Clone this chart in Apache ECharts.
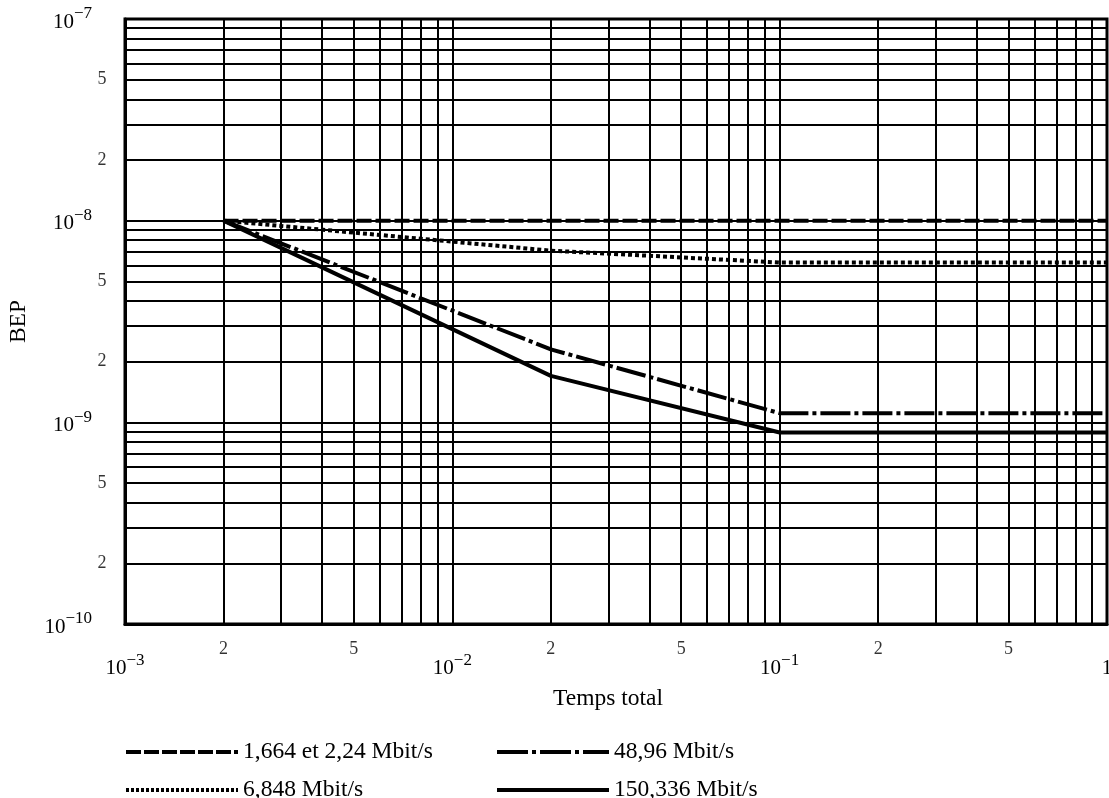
<!DOCTYPE html>
<html><head><meta charset="utf-8">
<script src="https://cdn.jsdelivr.net/npm/echarts@6/dist/echarts.min.js"></script>
<style>html,body{margin:0;padding:0;background:#fff}#c{width:1109px;height:798px}</style>
</head><body><div id="c"></div>
<script>
// ---- data ----
const xValues = [0.002, 0.02, 0.1, 1];
const seriesNames = ['1,664 et 2,24 Mbit/s', '6,848 Mbit/s', '48,96 Mbit/s', '150,336 Mbit/s'];
const bepDashed = [1e-8, 1e-8, 1e-8, 1e-8];
const bepDotted = [1e-8, 7.1e-9, 6.2e-9, 6.2e-9];
const bepDashDot = [1e-8, 2.3e-9, 1.11e-9, 1.11e-9];
const bepSolid = [1e-8, 1.7e-9, 8.9e-10, 8.9e-10];
const xRange = [0.001, 1];
const yRange = [1e-10, 1e-7];
const xMinorLabelTicks = [0.002, 0.005, 0.02, 0.05, 0.2, 0.5];
const yMinorLabelTicks = [2e-10, 5e-10, 2e-9, 5e-9, 2e-8, 5e-8];
const xTitle = 'Temps total';
const yTitle = 'BEP';

const FONT = 'Liberation Serif';
const chart = echarts.init(document.getElementById('c'));

function pairs(ys) { return xValues.map((x, i) => [x, ys[i]]); }
function leadingDigit(v) {
  const e = Math.floor(Math.log10(v) + 1e-9);
  return String(Math.round(v / Math.pow(10, e)));
}
function decadeLabel(v) {
  const e = Math.round(Math.log10(v));
  if (e === 0) return '{b|1}';
  return '{b|10}{s|' + (e < 0 ? '\u2212' + (-e) : e) + '}';
}
const rich = {
  b: { fontFamily: FONT, fontSize: 21, color: '#000', lineHeight: 27, verticalAlign: 'bottom' },
  s: { fontFamily: FONT, fontSize: 17, color: '#000', lineHeight: 17, verticalAlign: 'top' }
};
const gridLine = { color: '#000', width: 2, type: 'solid' };
const legendText = { fontFamily: FONT, fontSize: 23.5, color: '#000', lineHeight: 20 };
const styles = [
  { plot: [15, 4], legend: [15, 3] },
  { plot: [4, 3], legend: [3, 2] },
  { plot: [30, 4, 4, 4], legend: [31, 4, 4, 4] },
  { plot: 'solid', legend: 'solid' }
];
const legendPos = [[124, 740], [124, 778], [495, 740], [495, 778]];

function makeLegend(i) {
  return {
    data: [seriesNames[i]], left: legendPos[i][0], top: legendPos[i][1], orient: 'horizontal',
    itemWidth: 112, itemHeight: 20, padding: 0,
    textStyle: legendText,
    itemStyle: { opacity: 0, borderWidth: 0 },
    lineStyle: { width: 4, type: styles[i].legend, color: '#000', cap: 'butt' }
  };
}
const hidden = 'rgba(0,0,0,0)';

const option = {
  animation: false,
  backgroundColor: '#fff',
  grid: { left: 125, right: 2, top: 19, bottom: 174, show: true, borderColor: '#000', borderWidth: 3,
          containLabel: false, outerBoundsMode: 'none' },
  xAxis: {
    type: 'log', logBase: 10, min: xRange[0], max: xRange[1],
    name: xTitle, nameLocation: 'middle', nameGap: 63,
    nameTextStyle: { fontFamily: FONT, fontSize: 23.5, color: '#000', padding: [0, 16, 0, 0] },
    axisLine: { show: true, lineStyle: { color: '#000', width: 3 } },
    axisTick: { show: false },
    axisLabel: { show: true, interval: 0, margin: 28, formatter: decadeLabel, rich: rich, showMinLabel: true, showMaxLabel: true },
    splitLine: { show: true, lineStyle: gridLine },
    minorTick: { show: false, splitNumber: 9 },
    minorSplitLine: { show: true, lineStyle: gridLine }
  },
  yAxis: {
    type: 'log', logBase: 10, min: yRange[0], max: yRange[1],
    name: yTitle, nameLocation: 'middle', nameGap: 94, nameRotate: 90,
    nameTextStyle: { fontFamily: FONT, fontSize: 23.5, color: '#000' },
    axisLine: { show: true, lineStyle: { color: '#000', width: 3 } },
    axisTick: { show: false },
    axisLabel: { show: true, interval: 0, margin: 33, formatter: decadeLabel, rich: rich, showMinLabel: true, showMaxLabel: true },
    splitLine: { show: true, lineStyle: gridLine },
    minorTick: { show: false, splitNumber: 9 },
    minorSplitLine: { show: true, lineStyle: gridLine }
  },
  legend: [0, 1, 2, 3].map(makeLegend),
  series: [
    {
      name: 'x-minor-labels', type: 'scatter', silent: true, clip: false, z: 1,
      data: xMinorLabelTicks.map(v => [v, yRange[0]]),
      symbol: 'circle', symbolSize: 1, itemStyle: { color: hidden, borderWidth: 0 },
      label: { show: true, position: 'bottom', distance: 16, formatter: p => leadingDigit(p.value[0]),
               fontFamily: FONT, fontSize: 18, color: '#000' }
    },
    {
      name: 'y-minor-labels', type: 'scatter', silent: true, clip: false, z: 1,
      data: yMinorLabelTicks.map(v => [xRange[0], v]),
      symbol: 'circle', symbolSize: 1, itemStyle: { color: hidden, borderWidth: 0 },
      label: { show: true, position: 'left', distance: 18, formatter: p => leadingDigit(p.value[1]),
               fontFamily: FONT, fontSize: 18, color: '#000' }
    }
  ].concat([bepDashed, bepDotted, bepDashDot, bepSolid].map((ys, i) => ({
    name: seriesNames[i], type: 'line', data: pairs(ys), symbol: 'none', z: 3,
    lineStyle: { color: '#000', width: 4, type: styles[i].plot, cap: 'butt' },
    itemStyle: { color: '#000' }
  })))
};
chart.setOption(option);
</script>
</body></html>
